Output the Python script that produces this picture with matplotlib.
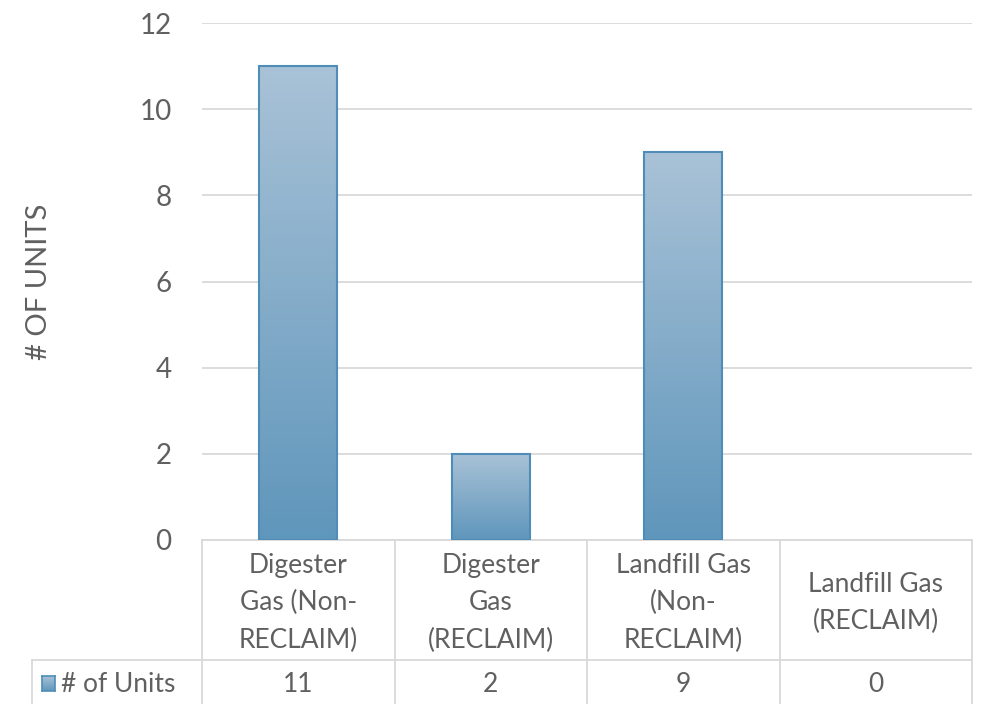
import matplotlib
matplotlib.use("Agg")
import matplotlib.pyplot as plt
import numpy as np
from matplotlib.colors import LinearSegmentedColormap
from matplotlib.patches import Rectangle

categories = ["Digester\nGas (Non-\nRECLAIM)", "Digester\nGas\n(RECLAIM)",
              "Landfill Gas\n(Non-\nRECLAIM)", "Landfill Gas\n(RECLAIM)"]
values = [11, 2, 9, 0]
series_name = "# of Units"
yticks = [0, 2, 4, 6, 8, 10, 12]

plt.rcParams['font.family'] = ['Lato', 'DejaVu Sans']
text_color = "#606060"
grid_color = "#d9d9d9"
cmap = LinearSegmentedColormap.from_list("g", ["#5f96bb", "#a9c2d7"])
edge = "#4f8db8"

W, H = 982, 704
fig = plt.figure(figsize=(W / 100, H / 100), dpi=100)
L, R, B, T = 202, 972, 540, 23
ax = fig.add_axes([L / W, 1 - B / H, (R - L) / W, (B - T) / H])

n = len(values)
x = np.arange(n)
bw = 0.405
grad = np.linspace(0, 1, 256).reshape(-1, 1)
for xi, v in zip(x, values):
    if v <= 0:
        continue
    ax.imshow(grad, cmap=cmap, origin="lower", aspect="auto",
              extent=[xi - bw / 2, xi + bw / 2, 0, v], zorder=3)
    ax.add_patch(Rectangle((xi - bw / 2, 0), bw, v, facecolor="none",
                           edgecolor=edge, linewidth=1.5, zorder=4))
ax.set_xlim(-0.5, n - 0.5)
ax.set_ylim(0, 12)

ax.set_yticks(yticks)
ax.set_yticklabels([str(t) for t in yticks], fontsize=20, color=text_color)
ax.tick_params(axis="y", length=0, pad=22)
ax.set_xticks([])
ax.grid(axis="y", color=grid_color, linewidth=1.3, zorder=0)
for s in ["top", "right", "left"]:
    ax.spines[s].set_visible(False)
ax.spines["bottom"].set_color(grid_color)
ax.spines["bottom"].set_linewidth(1.3)
ax.set_ylabel("# OF UNITS", fontsize=21, color=text_color, labelpad=63)

def fx(px):
    return px / W

def fy(py):
    return 1 - py / H

col_edges = np.linspace(L, R, n + 1)
lw = 1.3
for ce in col_edges:
    fig.add_artist(plt.Line2D([fx(ce), fx(ce)], [fy(540), fy(704)],
                              color=grid_color, linewidth=lw))
fig.add_artist(plt.Line2D([fx(32), fx(32)], [fy(660), fy(704)],
                          color=grid_color, linewidth=lw))
fig.add_artist(plt.Line2D([fx(32), fx(R)], [fy(660), fy(660)],
                          color=grid_color, linewidth=lw))

for i, (c, v) in enumerate(zip(categories, values)):
    cx = (col_edges[i] + col_edges[i + 1]) / 2
    fig.text(fx(cx), fy(603), c, ha="center", va="center", fontsize=19,
             color=text_color, linespacing=1.6)
    fig.text(fx(cx), fy(685), str(v), ha="center", va="center", fontsize=19,
             color=text_color)

kx0, kx1, ky0, ky1 = 42, 55, 676, 691
kax = fig.add_axes([fx(kx0), fy(ky1), (kx1 - kx0) / W, (ky1 - ky0) / H])
kax.imshow(grad, cmap=cmap, origin="lower", aspect="auto", extent=[0, 1, 0, 1])
kax.set_xticks([]); kax.set_yticks([])
for s in kax.spines.values():
    s.set_color(edge); s.set_linewidth(1.2)
fig.text(fx(61), fy(685), series_name, ha="left", va="center", fontsize=19,
         color=text_color)

fig.savefig("out.png", dpi=100, facecolor="white")
